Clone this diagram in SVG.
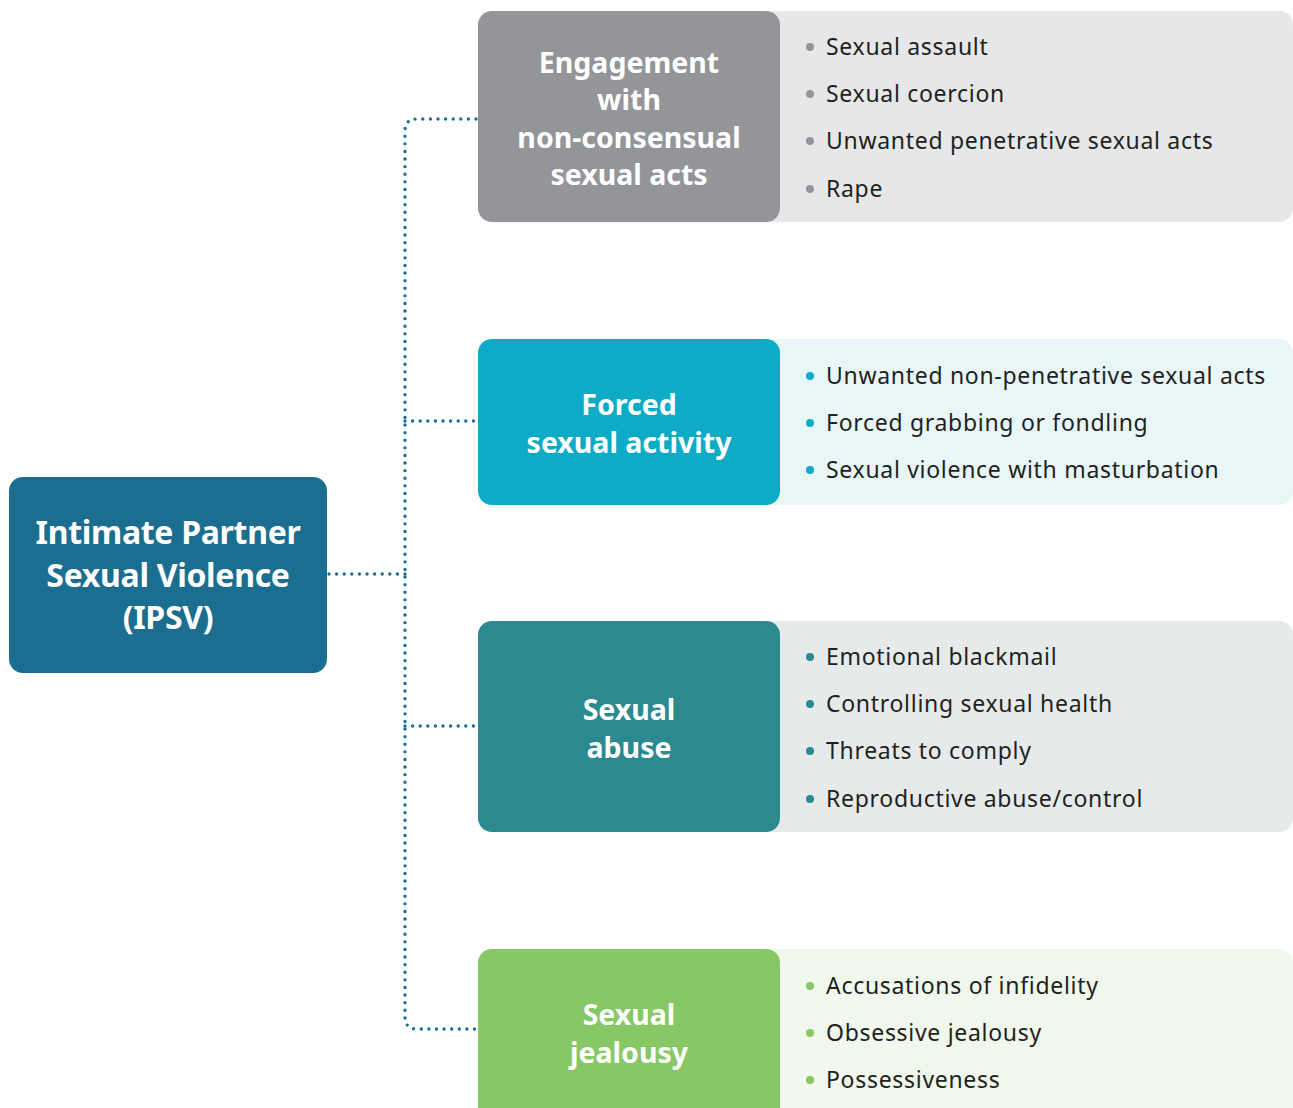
<svg xmlns="http://www.w3.org/2000/svg" width="1293" height="1108" viewBox="0 0 1293 1108">
<style>
.title{font-family:"Noto Sans","Open Sans",sans-serif;font-weight:700;fill:#fff;text-anchor:middle}
.main{font-size:32px;letter-spacing:-0.3px}
.cat{font-size:28.5px}
.item{font-family:"Noto Sans","Open Sans",sans-serif;font-size:23px;letter-spacing:0.7px;fill:#231f20}
.conn{fill:none;stroke:#1b6e8f;stroke-width:3.4;stroke-linecap:round;stroke-dasharray:0 7.6}
</style>
<rect width="1293" height="1108" fill="#fff"/>
<g id="connectors">
<path class="conn" d="M329 574 H405"/>
<path class="conn" d="M476 119 H417 Q405 119 405 131 V1017 Q405 1029 417 1029 H476"/>
<path class="conn" d="M405 421 H476"/>
<path class="conn" d="M405 726 H476"/>
</g>
<g id="ipsv">
<rect x="9" y="477" width="318" height="196" rx="14" fill="#1b6e8f"/>
<text class="title main" x="168" y="544">Intimate Partner</text>
<text class="title main" x="168" y="587">Sexual Violence</text>
<text class="title main" x="168" y="629">(IPSV)</text>
</g>
<g id="engagement">
<rect x="760" y="11" width="533" height="211" rx="14" fill="#e6e7e8"/>
<rect x="478" y="11" width="302" height="211" rx="14" fill="#939598"/>
<text class="title cat" x="629" y="73">Engagement</text>
<text class="title cat" x="629" y="110">with</text>
<text class="title cat" x="629" y="148">non-consensual</text>
<text class="title cat" x="629" y="185">sexual acts</text>
<g fill="#939598"><circle cx="810" cy="47" r="4"/><circle cx="810" cy="94" r="4"/><circle cx="810" cy="141" r="4"/><circle cx="810" cy="189" r="4"/></g>
<text class="item" x="826" y="55">Sexual assault</text>
<text class="item" x="826" y="102">Sexual coercion</text>
<text class="item" x="826" y="149">Unwanted penetrative sexual acts</text>
<text class="item" x="826" y="197">Rape</text>
</g>
<g id="forced">
<rect x="760" y="339" width="533" height="166" rx="14" fill="#e9f6f7"/>
<rect x="478" y="339" width="302" height="166" rx="14" fill="#0eabc6"/>
<text class="title cat" x="629" y="415">Forced</text>
<text class="title cat" x="629" y="453">sexual activity</text>
<g fill="#0eabc6"><circle cx="810" cy="376" r="4"/><circle cx="810" cy="423" r="4"/><circle cx="810" cy="470" r="4"/></g>
<text class="item" x="826" y="384">Unwanted non-penetrative sexual acts</text>
<text class="item" x="826" y="431">Forced grabbing or fondling</text>
<text class="item" x="826" y="478">Sexual violence with masturbation</text>
</g>
<g id="abuse">
<rect x="760" y="621" width="533" height="211" rx="14" fill="#e7eaeb"/>
<rect x="478" y="621" width="302" height="211" rx="14" fill="#2a8a8f"/>
<text class="title cat" x="629" y="720">Sexual</text>
<text class="title cat" x="629" y="758">abuse</text>
<g fill="#2a8a8f"><circle cx="810" cy="657" r="4"/><circle cx="810" cy="704" r="4"/><circle cx="810" cy="751" r="4"/><circle cx="810" cy="799" r="4"/></g>
<text class="item" x="826" y="665">Emotional blackmail</text>
<text class="item" x="826" y="712">Controlling sexual health</text>
<text class="item" x="826" y="759">Threats to comply</text>
<text class="item" x="826" y="807">Reproductive abuse/control</text>
</g>
<g id="jealousy">
<rect x="760" y="949" width="533" height="180" rx="14" fill="#f0f7ec"/>
<rect x="478" y="949" width="302" height="180" rx="14" fill="#88c766"/>
<text class="title cat" x="629" y="1025">Sexual</text>
<text class="title cat" x="629" y="1063">jealousy</text>
<g fill="#88c766"><circle cx="810" cy="986" r="4"/><circle cx="810" cy="1033" r="4"/><circle cx="810" cy="1080" r="4"/></g>
<text class="item" x="826" y="994">Accusations of infidelity</text>
<text class="item" x="826" y="1041">Obsessive jealousy</text>
<text class="item" x="826" y="1088">Possessiveness</text>
</g>
</svg>
